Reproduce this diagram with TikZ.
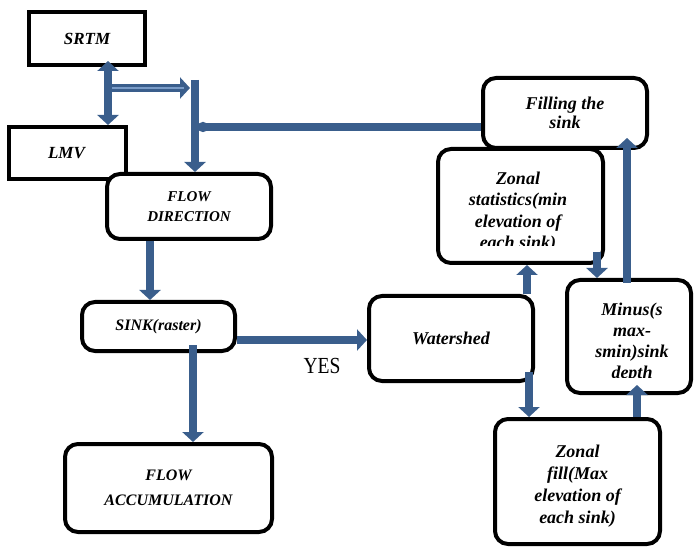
\documentclass[tikz,border=0pt]{standalone}
\usepackage{fontspec}
\setmainfont{Liberation Serif}
\usetikzlibrary{arrows.meta}
\definecolor{arrblue}{HTML}{3A5E8C}
\definecolor{arrlight}{HTML}{7A9CC8}
\begin{document}
\begin{tikzpicture}[x=1pt,y=-1pt,
  lbl/.style={align=center,inner sep=0pt,font=\bfseries\itshape\fontsize{18}{21}\selectfont},
  sqbox/.style={lbl,draw=black,line width=4pt,fill=white},
  rbox/.style={sqbox,rounded corners=13pt},
  arr/.style={draw=arrblue,line width=8pt,-{Triangle[width=21pt,length=10pt]}},
  darr/.style={draw=arrblue,line width=8pt,{Triangle[width=21pt,length=10pt]}-{Triangle[width=21pt,length=10pt]}},
  dotline/.style={draw=arrblue,line width=8pt,-{Circle[length=10pt]}}
]
\useasboundingbox (0,0) rectangle (694,548);

% boxes
\node[sqbox,minimum width=116pt,minimum height=53pt,font=\bfseries\itshape\fontsize{17}{21}\selectfont] (srtm) at (87,38.5) {SRTM};
\node[sqbox,minimum width=117pt,minimum height=52pt,font=\bfseries\itshape\fontsize{17}{21}\selectfont] (lmv) at (67.5,153) {\hspace*{-2pt}LMV};
\node[rbox,minimum width=164pt,minimum height=65pt,font=\bfseries\itshape\fontsize{15}{20}\selectfont] (fd) at (189,206.5) {FLOW\\DIRECTION};
\node[rbox,minimum width=153pt,minimum height=49pt,font=\bfseries\itshape\fontsize{16}{20}\selectfont] (sink) at (158.5,326.5) {SINK(raster)};
\node[rbox,minimum width=207pt,minimum height=88pt,font=\bfseries\itshape\fontsize{16}{25}\selectfont] (fa) at (168.5,488) {FLOW\\ACCUMULATION};
\node[rbox,minimum width=164pt,minimum height=85pt,font=\bfseries\itshape\fontsize{18}{21}\selectfont] (ws) at (451,338.5) {Watershed};
\node[rbox,minimum width=164pt,minimum height=70pt,font=\bfseries\itshape\fontsize{18}{19}\selectfont] (fill) at (565,113) {Filling the\\sink};
\node[rbox,minimum width=165pt,minimum height=114pt] (zs) at (520.5,206) {};
\node[rbox,minimum width=124pt,minimum height=113pt] (minus) at (629,336.5) {};
\node[rbox,minimum width=165pt,minimum height=125pt] (zf) at (577.5,481.5) {};
\node[lbl,font=\bfseries\itshape\fontsize{18}{22}\selectfont] (zft) at (577.5,486) {Zonal\\fill(Max\\elevation of\\each sink)};

% clipped texts
\begin{scope}
  \clip (440,150) rectangle (601,246);
  \node[lbl,font=\bfseries\itshape\fontsize{18}{21.5}\selectfont] (zst) at (518,212) {Zonal\\statistics(min\\elevation of\\each sink)};
\end{scope}
\begin{scope}
  \clip (569,282) rectangle (690,377);
  \node[lbl,font=\bfseries\itshape\fontsize{18}{21}\selectfont] (mint) at (632,343) {Minus(s\\max-\\smin)sink\\depth};
\end{scope}

% junction coordinates
\coordinate (j1) at (112,88);
\coordinate (j2) at (195,80);

% connectors
\draw[darr,shorten <=-6pt] (srtm.south -| 108,0) -- (lmv.north -| 108,0);
\draw[arr,shorten >=5pt] (j1) -- (j2 |- j1);
\draw[arrlight,line width=1.5pt] (j1) -- (184,88);
\draw[arr] (j2) -- (fd.north -| j2);
\draw[dotline,shorten >=3pt] (fill.west |- 0,127) -- (j2 |- 0,127);
\draw[arr] (fd.south -| 150,0) -- (sink.north -| 150,0);
\draw[arr,shorten <=-8pt] (sink.south -| 193,0) -- (fa.north -| 193,0);
\draw[arr] (sink.east |- 0,340) -- (ws.west |- 0,340);
\draw[arr] (ws.north -| 527,0) -- (zs.south -| 527,0);
\draw[arr,shorten <=-13pt] (zs.south -| 597,0) -- (minus.north -| 597,0);
\draw[arr,shorten <=-5pt,shorten >=-12pt] (minus.north -| 627,0) -- (fill.south -| 627,0);
\draw[arr,shorten <=-11pt] (ws.south -| 529,0) -- (zf.north -| 529,0);
\draw[arr,shorten >=-10pt] (zf.north -| 637,0) -- (minus.south -| 637,0);

\node[inner sep=0pt,font=\fontsize{23}{24}\selectfont,xscale=0.85] (yes) at (322,366) {YES};
\end{tikzpicture}
\end{document}
